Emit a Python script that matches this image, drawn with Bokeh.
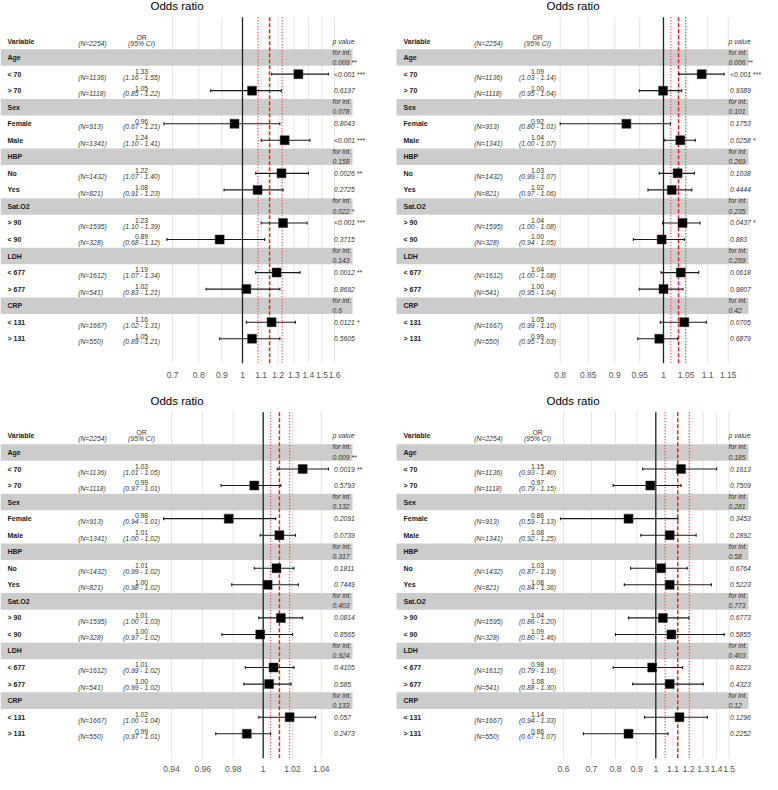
import math
from bokeh.plotting import figure
from bokeh.models import ColumnDataSource, Range1d, LinearScale, FixedTicker
from bokeh.layouts import column, row
from bokeh.embed import file_html
from bokeh.resources import INLINE
from bokeh.core.properties import value

# ---------------- data ----------------
row_labels = ["Variable", "Age", "< 70", "> 70", "Sex", "Female", "Male", "HBP", "No", "Yes",
              "Sat.O2", "> 90", "< 90", "LDH", "< 677", "> 677", "CRP", "< 131", "> 131"]
group_labels = ["Age", "Sex", "HBP", "Sat.O2", "LDH", "CRP"]
n_total = 2254
n_sub = [1136, 1118, 913, 1341, 1432, 821, 1595, 328, 1612, 541, 1667, 550]

# panel 1 (top left)
est1 = [1.33, 1.05, 0.96, 1.24, 1.22, 1.08, 1.23, 0.89, 1.19, 1.02, 1.16, 1.05]
lo1 = [1.16, 0.85, 0.67, 1.10, 1.07, 0.91, 1.10, 0.68, 1.07, 0.83, 1.02, 0.89]
hi1 = [1.55, 1.22, 1.21, 1.41, 1.40, 1.23, 1.39, 1.12, 1.34, 1.21, 1.31, 1.21]
or_txt1 = ["1.33", "1.05", "0.96", "1.24", "1.22", "1.08", "1.23", "0.89", "1.19", "1.02", "1.16", "1.05"]
ci_txt1 = ["(1.16 - 1.55)", "(0.85 - 1.22)", "(0.67 - 1.21)", "(1.10 - 1.41)", "(1.07 - 1.40)", "(0.91 - 1.23)",
           "(1.10 - 1.39)", "(0.68 - 1.12)", "(1.07 - 1.34)", "(0.83 - 1.21)", "(1.02 - 1.31)", "(0.89 - 1.21)"]
p_sub1 = ["<0.001 ***", "0.6197", "0.8043", "<0.001 ***", "0.0026 **", "0.2725",
          "<0.001 ***", "0.3715", "0.0012 **", "0.8692", "0.0121 *", "0.5605"]
p_int1 = ["0.009 **", "0.078", "0.158", "0.022 *", "0.143", "0.6"]
overall1 = [1.148, 1.083, 1.224]
ticks1 = [0.7, 0.8, 0.9, 1, 1.1, 1.2, 1.3, 1.4, 1.5, 1.6]
tick_labels1 = ["0.7", "0.8", "0.9", "1", "1.1", "1.2", "1.3", "1.4", "1.5", "1.6"]

# panel 2 (top right)
est2 = [1.086, 0.999, 0.923, 1.037, 1.031, 1.018, 1.042, 0.996, 1.038, 1.000, 1.046, 0.991]
lo2 = [1.034, 0.949, 0.800, 1.003, 0.991, 0.967, 0.998, 0.937, 0.995, 0.949, 0.993, 0.946]
hi2 = [1.140, 1.040, 1.015, 1.071, 1.069, 1.063, 1.082, 1.046, 1.079, 1.043, 1.097, 1.031]
or_txt2 = ["1.09", "1.00", "0.92", "1.04", "1.03", "1.02", "1.04", "1.00", "1.04", "1.00", "1.05", "0.99"]
ci_txt2 = ["(1.03 - 1.14)", "(0.95 - 1.04)", "(0.80 - 1.01)", "(1.00 - 1.07)", "(0.99 - 1.07)", "(0.97 - 1.06)",
           "(1.00 - 1.08)", "(0.94 - 1.05)", "(1.00 - 1.08)", "(0.95 - 1.04)", "(0.99 - 1.10)", "(0.95 - 1.03)"]
p_sub2 = ["<0.001 ***", "0.9389", "0.1753", "0.0258 *", "0.1038", "0.4444",
          "0.0437 *", "0.883", "0.0618", "0.9807", "0.0705", "0.6879"]
p_int2 = ["0.006 **", "0.101", "0.269", "0.235", "0.269", "0.42"]
overall2 = [1.033, 1.016, 1.049]
ticks2 = [0.8, 0.85, 0.9, 0.95, 1, 1.05, 1.1, 1.15]
tick_labels2 = ["0.8", "0.85", "0.9", "0.95", "1", "1.05", "1.1", "1.15"]

# panel 3 (bottom left)
est3 = [1.027, 0.994, 0.977, 1.011, 1.009, 1.003, 1.012, 0.998, 1.007, 1.004, 1.018, 0.989]
lo3 = [1.0095, 0.972, 0.935, 0.998, 0.994, 0.979, 0.997, 0.9725, 0.988, 0.987, 0.997, 0.9685]
hi3 = [1.045, 1.012, 1.0085, 1.022, 1.021, 1.024, 1.027, 1.020, 1.021, 1.019, 1.036, 1.005]
or_txt3 = ["1.03", "0.99", "0.98", "1.01", "1.01", "1.00", "1.01", "1.00", "1.01", "1.00", "1.02", "0.99"]
ci_txt3 = ["(1.01 - 1.05)", "(0.97 - 1.01)", "(0.94 - 1.01)", "(1.00 - 1.02)", "(0.99 - 1.02)", "(0.98 - 1.02)",
           "(1.00 - 1.03)", "(0.97 - 1.02)", "(0.99 - 1.02)", "(0.99 - 1.02)", "(1.00 - 1.04)", "(0.97 - 1.01)"]
p_sub3 = ["0.0019 **", "0.5793", "0.2091", "0.0739", "0.1811", "0.7449",
          "0.0814", "0.8565", "0.4105", "0.585", "0.057", "0.2473"]
p_int3 = ["0.009 **", "0.132", "0.317", "0.403", "0.924", "0.133"]
overall3 = [1.011, 1.005, 1.018]
ticks3 = [0.94, 0.96, 0.98, 1, 1.02, 1.04]
tick_labels3 = ["0.94", "0.96", "0.98", "1", "1.02", "1.04"]

# panel 4 (bottom right)
est4 = [1.15, 0.97, 0.86, 1.08, 1.03, 1.08, 1.04, 1.09, 0.98, 1.08, 1.14, 0.86]
lo4 = [0.93, 0.79, 0.59, 0.92, 0.87, 0.84, 0.86, 0.80, 0.79, 0.88, 0.94, 0.67]
hi4 = [1.40, 1.15, 1.13, 1.25, 1.19, 1.36, 1.20, 1.46, 1.16, 1.30, 1.33, 1.07]
or_txt4 = ["1.15", "0.97", "0.86", "1.08", "1.03", "1.08", "1.04", "1.09", "0.98", "1.08", "1.14", "0.86"]
ci_txt4 = ["(0.93 - 1.40)", "(0.79 - 1.15)", "(0.59 - 1.13)", "(0.92 - 1.25)", "(0.87 - 1.19)", "(0.84 - 1.36)",
           "(0.86 - 1.20)", "(0.80 - 1.46)", "(0.79 - 1.16)", "(0.88 - 1.30)", "(0.94 - 1.33)", "(0.67 - 1.07)"]
p_sub4 = ["0.1613", "0.7509", "0.3453", "0.2892", "0.6764", "0.5223",
          "0.6773", "0.5855", "0.8223", "0.4323", "0.1296", "0.2252"]
p_int4 = ["0.185", "0.281", "0.58", "0.773", "0.403", "0.12"]
overall4 = [1.129, 1.053, 1.205]
ticks4 = [0.6, 0.7, 0.8, 0.9, 1, 1.1, 1.2, 1.3, 1.4, 1.5]
tick_labels4 = ["0.6", "0.7", "0.8", "0.9", "1", "1.1", "1.2", "1.3", "1.4", "1.5"]

# ---------------- layout / style ----------------
FONT = value("Liberation Sans")
TXT = "#1a1a1a"
U0, DU = 41.0, 16.72        # pixel position of header row and row pitch
W = 381
U_BOT = 367.0

grp_rows = [i for i, lab in enumerate(row_labels) if lab in group_labels]
sub_rows = [i for i, lab in enumerate(row_labels) if i > 0 and lab not in group_labels]


def make_panel(est, lo, hi, or_txt, ci_txt, p_sub, p_int, overall, ticks, tick_labels,
               x1, k, ox, height, u_top, standoff):
    r_top = (u_top - U0) / DU
    r_bot = (U_BOT - U0) / DU
    g_top = (17.0 - U0) / DU
    xs = math.exp((0 - x1) / k)
    xe = math.exp((W - x1) / k)
    frame_h = U_BOT - u_top
    p = figure(width=W, height=height, x_axis_type="log",
               x_range=Range1d(xs, xe), y_range=Range1d(r_bot, r_top),
               output_backend="svg", toolbar_location=None, y_axis_location=None,
               min_border_left=0, min_border_right=0, min_border_top=0,
               min_border_bottom=int(round(height - frame_h)))
    p.extra_x_ranges = {"px": Range1d(0, W)}
    p.extra_x_scales = {"px": LinearScale()}
    p.outline_line_color = None
    p.xgrid.visible = False
    p.ygrid.visible = False
    p.background_fill_color = "white"
    p.border_fill_color = "white"

    ax = p.xaxis[0]
    ax.ticker = FixedTicker(ticks=ticks)
    ax.major_label_overrides = {t: lab for t, lab in zip(ticks, tick_labels)}
    ax.axis_line_color = None
    ax.major_tick_line_color = None
    ax.minor_tick_line_color = None
    ax.major_label_text_font = "Liberation Sans"
    ax.major_label_text_font_size = "8.5px"
    ax.major_label_text_color = "#555555"
    ax.major_label_standoff = standoff

    nt = len(ticks)
    # grid lines
    p.segment(x0=ticks, x1=ticks, y0=[g_top] * nt, y1=[r_bot] * nt,
              line_color="#e3e3e3", line_width=1)
    # group bands
    p.hbar(y=grp_rows, left=ox, right=ox + 352, height=1.0, x_range_name="px",
           fill_color="#cccccc", line_color=None)
    # reference line at 1
    p.segment(x0=[1], x1=[1], y0=[g_top], y1=[r_bot], line_color="#222222", line_width=1.3)
    # overall estimate and CI
    p.segment(x0=[overall[0]], x1=[overall[0]], y0=[g_top], y1=[r_bot],
              line_color="#ff1a1a", line_width=1.5, line_dash="4 2")
    p.segment(x0=overall[1:], x1=overall[1:], y0=[g_top] * 2, y1=[r_bot] * 2,
              line_color="#ff3333", line_width=1.3, line_dash="1 2")

    # error bars
    src = ColumnDataSource(dict(est=est, lo=lo, hi=hi, y=sub_rows,
                                ya=[r - 0.09 for r in sub_rows], yb=[r + 0.09 for r in sub_rows]))
    p.segment(x0="lo", x1="hi", y0="y", y1="y", source=src, line_color="#1a1a1a", line_width=1.1)
    p.segment(x0="lo", x1="lo", y0="ya", y1="yb", source=src, line_color="#1a1a1a", line_width=1.1)
    p.segment(x0="hi", x1="hi", y0="ya", y1="yb", source=src, line_color="#1a1a1a", line_width=1.1)
    p.scatter(x="est", y="y", source=src, marker="square", size=9,
              fill_color="black", line_color="#333333", line_width=0.5)

    # ---- text columns ----
    def txt(xpos, ys, texts, align="left", style="normal", size="6.8px", color=TXT):
        p.text(x=[xpos] * len(texts), y=ys, text=texts, x_range_name="px",
               text_font=FONT, text_font_size=size, text_font_style=style,
               text_align=align, text_baseline="middle", text_color=color)

    all_rows = list(range(len(row_labels)))
    txt(ox + 7, all_rows, row_labels, style="bold", size="7px")
    txt(ox + 77.7, [0.16] + [r + 0.19 for r in sub_rows],
        ["(N=%d)" % n_total] + ["(N=%d)" % n for n in n_sub], style="italic", color="#333333")
    txt(ox + 141, [-0.22] + [r - 0.16 for r in sub_rows], ["OR"] + or_txt, align="center", color="#333333")
    txt(ox + 141, [0.14] + [r + 0.19 for r in sub_rows], ["(95% CI)"] + ci_txt, align="center",
        style="italic", color="#333333")
    txt(ox + 332, [0] + [r - 0.33 for r in grp_rows] + [r + 0.28 for r in grp_rows],
        ["p value"] + ["for int."] * len(grp_rows) + p_int, style="italic", color="#333333")
    txt(ox + 333.5, sub_rows, p_sub, style="italic", color="#333333")
    # title
    p.text(x=[ox + 176.5], y=[(5.5 - U0) / DU], text=["Odds ratio"], x_range_name="px",
           text_font=FONT, text_font_size="11.5px", text_align="center",
           text_baseline="middle", text_color="black")
    return p


H_TOP, H_BOT = 380, 394
p1 = make_panel(est1, lo1, hi1, or_txt1, ci_txt1, p_sub1, p_int1, overall1, ticks1, tick_labels1,
                x1=242.0, k=196.0, ox=0, height=H_TOP, u_top=0.0, standoff=2)
p2 = make_panel(est2, lo2, hi2, or_txt2, ci_txt2, p_sub2, p_int2, overall2, ticks2, tick_labels2,
                x1=282.0, k=463.0, ox=15, height=H_TOP, u_top=0.0, standoff=2)
p3 = make_panel(est3, lo3, hi3, or_txt3, ci_txt3, p_sub3, p_int3, overall3, ticks3, tick_labels3,
                x1=262.7, k=1482.0, ox=0, height=H_BOT, u_top=-15.0, standoff=1)
p4 = make_panel(est4, lo4, hi4, or_txt4, ci_txt4, p_sub4, p_int4, overall4, ticks4, tick_labels4,
                x1=274.3, k=180.7, ox=15, height=H_BOT, u_top=-15.0, standoff=1)

lay = column(row(p1, p2), row(p3, p4))
open("out.html", "w").write(file_html(lay, INLINE))
